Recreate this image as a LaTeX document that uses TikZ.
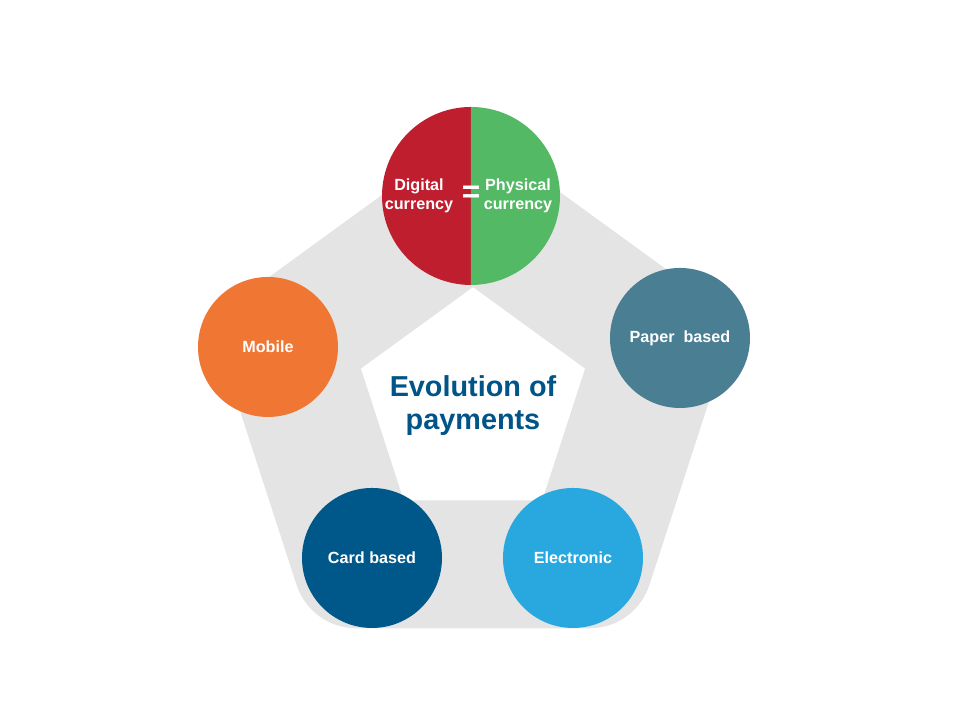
\documentclass[tikz,border=0pt]{standalone}
\usepackage{fontspec}
\setmainfont{Liberation Sans}
\definecolor{ringgray}{RGB}{228,228,228}
\definecolor{digitalred}{RGB}{190,30,45}
\definecolor{physgreen}{RGB}{84,185,100}
\definecolor{mobileorange}{RGB}{240,118,52}
\definecolor{papersteel}{RGB}{74,126,146}
\definecolor{cardblue}{RGB}{0,88,138}
\definecolor{elecblue}{RGB}{41,168,224}
\definecolor{titleblue}{RGB}{0,84,136}
\tikzset{
  stage/.style={circle, minimum size=1.4cm, inner sep=0pt, text=white,
    font=\fontsize{4.6}{5.6}\selectfont\bfseries, align=center},
  halflabel/.style={text=white, font=\fontsize{4.6}{5.6}\selectfont\bfseries, align=center}
}
\begin{document}
\begin{tikzpicture}
\useasboundingbox[fill=white] (0,0) rectangle (9.6,7.2);

% gray band
\begin{scope}[shift={(4.73,3.15)}]
\draw[ringgray, line width=1.28cm, line join=round]
  (90:1.97) -- (162:1.97) -- (234:1.97) -- (306:1.97) -- (18:1.97) -- cycle;
\end{scope}

% top circle, two halves
\fill[digitalred] (4.71,6.13) arc (90:270:0.89) -- cycle;
\fill[physgreen] (4.71,4.35) arc (-90:90:0.89) -- cycle;
\node[halflabel] (digital) at (4.19,5.24) {Digital\\currency};
\node[halflabel] (physical) at (5.18,5.24) {Physical\\currency};
\node[text=white, font=\fontsize{9}{9}\selectfont\bfseries] (equal) at (4.71,5.26) {=};

\node[stage, fill=mobileorange] (mobile) at (2.68,3.73) {Mobile};
\node[stage, fill=papersteel] (paper) at (6.80,3.82) {Paper\ \ based};
\node[stage, fill=cardblue] (card) at (3.72,1.62) {Card based};
\node[stage, fill=elecblue] (electronic) at (5.73,1.62) {Electronic};

\node[text=titleblue, font=\fontsize{8.2}{9.4}\selectfont\bfseries, align=center]
  (title) at (4.73,3.14) {Evolution of\\payments};
\end{tikzpicture}
\end{document}
